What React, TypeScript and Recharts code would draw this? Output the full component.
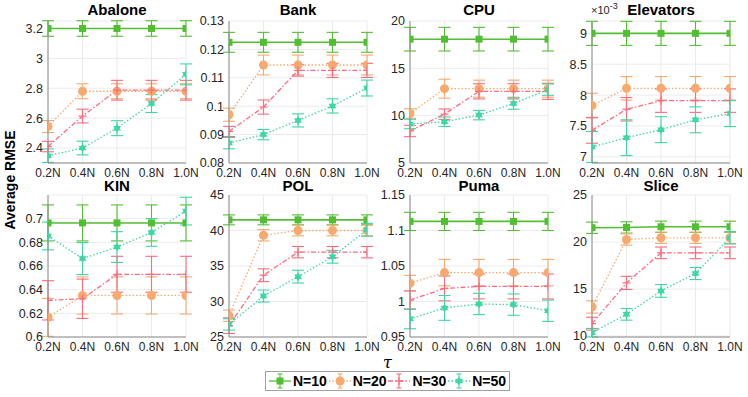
import React from "react";
import { LineChart, Line, XAxis, YAxis, CartesianGrid, ErrorBar } from "recharts";

const taus = [0.2, 0.4, 0.6, 0.8, 1.0];
const tauLabels = ["0.2N", "0.4N", "0.6N", "0.8N", "1.0N"];
const groups = ["N=10", "N=20", "N=30", "N=50"];
const colors = ["#52be32", "#f7a96e", "#ff6a7d", "#3ed6a4"];

// mean RMSE per group (N=10, N=20, N=30, N=50) and error half-widths
const abaloneMean = [
  [3.2, 3.2, 3.2, 3.2, 3.2],
  [2.544, 2.78, 2.78, 2.78, 2.78],
  [2.41, 2.614, 2.787, 2.787, 2.787],
  [2.349, 2.4, 2.533, 2.698, 2.893],
];
const abaloneErr = [
  [0.052, 0.052, 0.052, 0.052, 0.052],
  [0.04, 0.05, 0.05, 0.05, 0.05],
  [0.035, 0.046, 0.066, 0.066, 0.066],
  [0.045, 0.046, 0.05, 0.06, 0.07],
];
const bankMean = [
  [0.1225, 0.1225, 0.1225, 0.1225, 0.1225],
  [0.097, 0.1145, 0.1145, 0.1145, 0.1145],
  [0.0911, 0.0997, 0.1126, 0.1126, 0.1126],
  [0.087, 0.09, 0.095, 0.1001, 0.1064],
];
const bankErr = [
  [0.0035, 0.0035, 0.0035, 0.0035, 0.0035],
  [0.0023, 0.0035, 0.0035, 0.0035, 0.0035],
  [0.0018, 0.0025, 0.002, 0.0025, 0.0025],
  [0.002, 0.0018, 0.0023, 0.0025, 0.0028],
];
const cpuMean = [
  [18.08, 18.08, 18.08, 18.08, 18.08],
  [10.23, 12.85, 12.85, 12.85, 12.85],
  [8.38, 10.16, 12.57, 12.57, 12.57],
  [9.12, 9.36, 10.06, 11.28, 12.75],
];
const cpuErr = [
  [1.25, 1.25, 1.25, 1.25, 1.25],
  [0.5, 1.0, 0.9, 0.9, 0.9],
  [0.6, 0.55, 0.8, 0.8, 0.85],
  [0.5, 0.5, 0.5, 0.6, 0.6],
];
const elevatorsMean = [
  [9.0, 9.0, 9.0, 9.0, 9.0],
  [7.83, 8.11, 8.11, 8.11, 8.11],
  [7.43, 7.77, 7.91, 7.91, 7.91],
  [7.16, 7.31, 7.44, 7.6, 7.7],
];
const elevatorsErr = [
  [0.195, 0.195, 0.195, 0.195, 0.195],
  [0.2, 0.19, 0.19, 0.19, 0.19],
  [0.21, 0.19, 0.19, 0.19, 0.19],
  [0.25, 0.29, 0.21, 0.21, 0.21],
];
const kinMean = [
  [0.6964, 0.6964, 0.6964, 0.6964, 0.6964],
  [0.6166, 0.6351, 0.6351, 0.6351, 0.6351],
  [0.631, 0.6323, 0.653, 0.653, 0.653],
  [0.6854, 0.6663, 0.676, 0.6884, 0.7064],
];
const kinErr = [
  [0.0152, 0.0152, 0.0152, 0.0152, 0.0152],
  [0.016, 0.0157, 0.0157, 0.0157, 0.0157],
  [0.0166, 0.0166, 0.0152, 0.0152, 0.0152],
  [0.0117, 0.0135, 0.013, 0.0117, 0.0117],
];
const polMean = [
  [41.5, 41.5, 41.5, 41.5, 41.5],
  [28.0, 39.33, 40.0, 40.0, 40.0],
  [26.6, 33.7, 36.95, 36.95, 36.95],
  [26.77, 30.77, 33.5, 36.3, 40.1],
];
const polErr = [
  [0.7, 0.7, 0.7, 0.7, 0.7],
  [0.8, 0.8, 0.75, 0.75, 0.75],
  [1.1, 0.9, 0.8, 0.8, 0.8],
  [0.8, 0.85, 0.9, 0.9, 0.9],
];
const pumaMean = [
  [1.1128, 1.1128, 1.1128, 1.1128, 1.1128],
  [1.0258, 1.0407, 1.0407, 1.0407, 1.0407],
  [1.002, 1.0184, 1.0212, 1.0212, 1.0212],
  [0.9756, 0.991, 0.9965, 0.9956, 0.987],
];
const pumaErr = [
  [0.0128, 0.0128, 0.0128, 0.0128, 0.0128],
  [0.011, 0.0186, 0.0186, 0.0186, 0.0186],
  [0.013, 0.0175, 0.0175, 0.0175, 0.0175],
  [0.014, 0.0175, 0.015, 0.015, 0.015],
];
const sliceMean = [
  [21.52, 21.55, 21.62, 21.62, 21.62],
  [13.09, 20.27, 20.45, 20.45, 20.45],
  [11.32, 15.65, 18.85, 18.85, 18.85],
  [10.36, 12.31, 14.8, 16.65, 20.45],
];
const sliceErr = [
  [0.6, 0.6, 0.6, 0.6, 0.6],
  [0.65, 0.6, 0.6, 0.6, 0.6],
  [0.68, 0.7, 0.62, 0.62, 0.62],
  [0.45, 0.62, 0.68, 0.64, 0.66],
];

const panels = [
  { name: "Abalone", mean: abaloneMean, err: abaloneErr, domain: [2.3, 3.25], ticks: [2.4, 2.6, 2.8, 3, 3.2] },
  { name: "Bank", mean: bankMean, err: bankErr, domain: [0.08, 0.13], ticks: [0.08, 0.09, 0.1, 0.11, 0.12, 0.13] },
  { name: "CPU", mean: cpuMean, err: cpuErr, domain: [5, 20], ticks: [5, 10, 15, 20] },
  { name: "Elevators", mean: elevatorsMean, err: elevatorsErr, domain: [6.9, 9.2], ticks: [7, 7.5, 8, 8.5, 9] },
  { name: "KIN", mean: kinMean, err: kinErr, domain: [0.6, 0.72], ticks: [0.6, 0.62, 0.64, 0.66, 0.68, 0.7] },
  { name: "POL", mean: polMean, err: polErr, domain: [25, 45], ticks: [25, 30, 35, 40, 45] },
  { name: "Puma", mean: pumaMean, err: pumaErr, domain: [0.95, 1.15], ticks: [0.95, 1, 1.05, 1.1, 1.15] },
  { name: "Slice", mean: sliceMean, err: sliceErr, domain: [9.9, 25], ticks: [10, 15, 20, 25] },
];

const font = "'Liberation Sans', Arial, sans-serif";
const plotLefts = [48, 229, 410, 592];
const rowTops = [21, 195];
const plotW = 138;
const plotH = 142;
const dashes = [undefined, "1.5 2", "5 2 1.5 2", "1.5 2"];

function Marker({ kind, cx, cy, color }: any) {
  if (cx == null || cy == null) return null;
  if (kind === 0) return <rect x={cx - 3.5} y={cy - 3.5} width={7} height={7} fill={color} />;
  if (kind === 1) return <circle cx={cx} cy={cy} r={4.5} fill={color} />;
  if (kind === 2)
    return (
      <g stroke={color} strokeWidth={1.2}>
        <line x1={cx - 4} y1={cy} x2={cx + 4} y2={cy} />
        <line x1={cx} y1={cy - 4} x2={cx} y2={cy + 4} />
      </g>
    );
  const pts: string[] = [];
  for (let i = 0; i < 12; i++) {
    const r = i % 2 === 0 ? 4.5 : 2.6;
    const a = (Math.PI / 6) * i - Math.PI / 2;
    pts.push(`${cx + r * Math.cos(a)},${cy + r * Math.sin(a)}`);
  }
  return <polygon points={pts.join(" ")} fill={color} />;
}

function Panel({ p, idx }: any) {
  const row = idx < 4 ? 0 : 1;
  const col = idx % 4;
  const data = taus.map((t, i) => {
    const o: any = { tau: t };
    groups.forEach((_, g) => {
      o["m" + g] = p.mean[g][i];
      o["e" + g] = p.err[g][i];
    });
    return o;
  });
  const top = 8;
  const left = 45;
  return (
    <div style={{ position: "absolute", left: plotLefts[col] - left, top: rowTops[row] - top }}>
      <LineChart
        width={left + plotW + 14}
        height={top + plotH + 22}
        data={data}
        margin={{ top, right: 14, left: 0, bottom: 0 }}
      >
        <CartesianGrid stroke="#ebebeb" strokeWidth={1} />
        <XAxis
          type="number"
          dataKey="tau"
          domain={[0.2, 1.0]}
          ticks={taus}
          allowDataOverflow
          tickFormatter={(v: number) => tauLabels[taus.indexOf(v)] ?? ""}
          tick={{ fill: "#262626", fontSize: 12, fontFamily: font }}
          tickLine={false}
          tickSize={3}
          stroke="#8a8a8a"
          height={22}
          interval={0}
        />
        <YAxis
          type="number"
          domain={p.domain}
          ticks={p.ticks}
          allowDataOverflow
          tick={{ fill: "#262626", fontSize: 12.5, fontFamily: font }}
          tickLine={false}
          tickSize={3}
          stroke="#8a8a8a"
          width={left}
          interval={0}
        />
        {groups.map((g, k) => (
          <Line
            key={g}
            type="linear"
            dataKey={"m" + k}
            stroke={colors[k]}
            strokeWidth={k === 0 ? 1.6 : 1.3}
            strokeDasharray={dashes[k]}
            isAnimationActive={false}
            dot={(dp: any) => <Marker key={dp.index} kind={k} cx={dp.cx} cy={dp.cy} color={colors[k]} />}
            activeDot={false}
          >
            <ErrorBar dataKey={"e" + k} width={6} stroke={colors[k]} strokeWidth={1.1} direction="y" />
          </Line>
        ))}
      </LineChart>
    </div>
  );
}

function LegendIcon({ k }: any) {
  const c = colors[k];
  return (
    <svg width={22} height={18} style={{ display: "block" }}>
      <line x1={0} y1={9} x2={22} y2={9} stroke={c} strokeWidth={1.3} strokeDasharray={dashes[k]} />
      <line x1={11} y1={2} x2={11} y2={16} stroke={c} strokeWidth={1.1} />
      <line x1={8.5} y1={2} x2={13.5} y2={2} stroke={c} strokeWidth={1.1} />
      <line x1={8.5} y1={16} x2={13.5} y2={16} stroke={c} strokeWidth={1.1} />
      <Marker kind={k} cx={11} cy={9} color={c} />
    </svg>
  );
}

export default function App() {
  return (
    <div style={{ position: "fixed", left: 0, top: 0, width: 748, height: 397, background: "#fff", fontFamily: font, overflow: "hidden" }}>
      {panels.map((p, i) => (
        <Panel key={p.name} p={p} idx={i} />
      ))}
      {panels.map((p, i) => {
        const row = i < 4 ? 0 : 1;
        const col = i % 4;
        return (
          <div
            key={"t" + p.name}
            style={{
              position: "absolute",
              left: plotLefts[col],
              width: plotW,
              top: row === 0 ? 1 : 177,
              textAlign: "center",
              fontWeight: "bold",
              fontSize: 15,
              color: "#000",
            }}
          >
            {p.name}
          </div>
        );
      })}
      <div style={{ position: "absolute", left: 591, top: 1, fontSize: 11, color: "#262626" }}>
        ×10<sup style={{ fontSize: 9 }}>-3</sup>
      </div>
      <div
        style={{
          position: "absolute",
          left: 10,
          top: 180,
          transform: "translate(-50%, -50%) rotate(-90deg)",
          whiteSpace: "nowrap",
          fontWeight: "bold",
          fontSize: 14,
          color: "#000",
        }}
      >
        Average RMSE
      </div>
      <div
        style={{
          position: "absolute",
          left: 383,
          top: 353,
          fontStyle: "italic",
          fontFamily: "'DejaVu Serif', serif",
          fontSize: 16,
          color: "#000",
        }}
      >
        τ
      </div>
      <div
        style={{
          position: "absolute",
          left: 265,
          top: 371,
          width: 245,
          height: 20,
          border: "1px solid #a0a0a0",
          boxSizing: "border-box",
          display: "flex",
          alignItems: "center",
          justifyContent: "space-around",
          padding: "0 2px",
          background: "#fff",
        }}
      >
        {groups.map((g, k) => (
          <div key={g} style={{ display: "flex", alignItems: "center", gap: 2 }}>
            <LegendIcon k={k} />
            <span style={{ fontWeight: "bold", fontSize: 14, color: "#000" }}>{g}</span>
          </div>
        ))}
      </div>
    </div>
  );
}
